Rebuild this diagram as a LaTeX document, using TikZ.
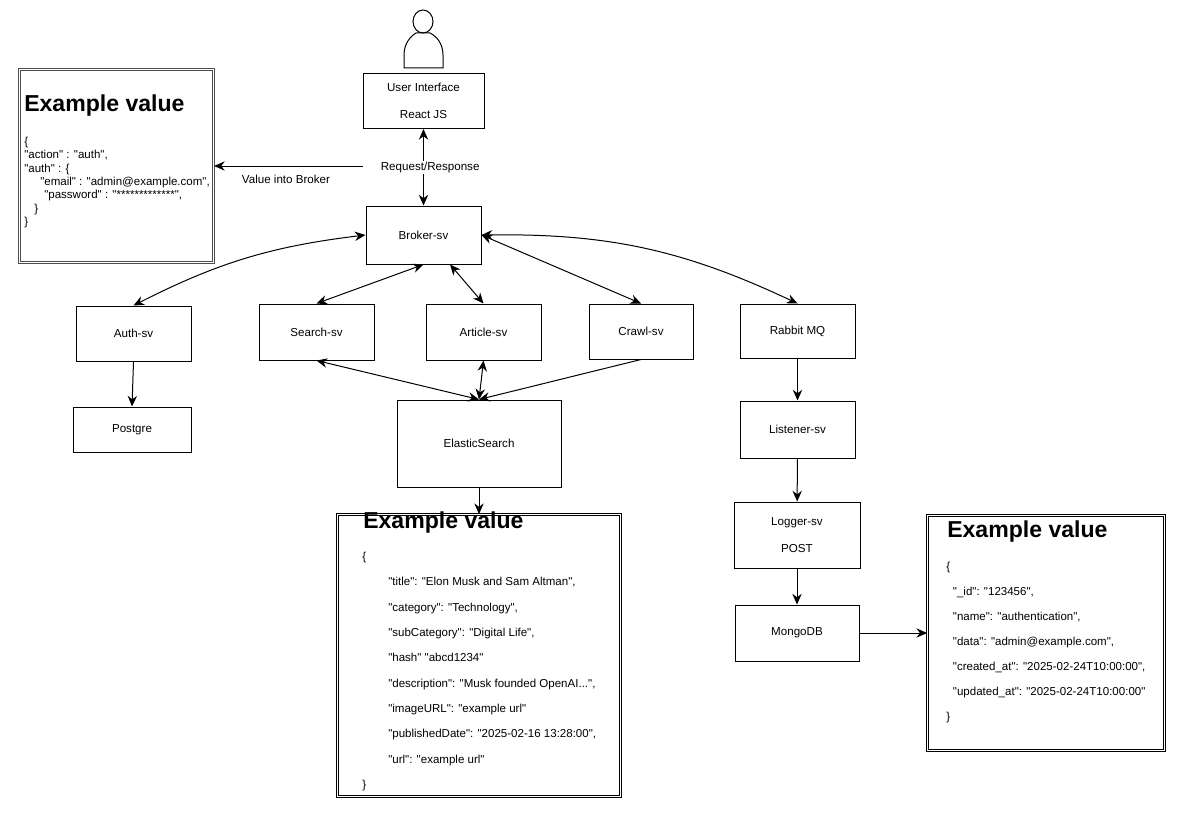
\documentclass[tikz,border=0pt]{standalone}
\usepackage{fontspec}
\setmainfont{Liberation Sans}[Ligatures=TeXOff]
\usetikzlibrary{arrows.meta}
\tikzset{
  size/.style 2 args={minimum width=#1*0.75pt, minimum height=#2*0.75pt},
  box/.style={draw, inner sep=0pt, align=center, line width=0.75pt, font=\fontsize{8.7}{20}\selectfont},
  example/.style={draw, double, double distance=1.1pt, line width=0.6pt},
  heading/.style={anchor=west, inner sep=0pt, font=\bfseries\fontsize{17.3}{20}\selectfont},
  code/.style={anchor=north west, inner sep=0pt, align=left, font=\fontsize{8.65}{#1}\selectfont},
  caption/.style={inner sep=1pt, font=\fontsize{8.7}{11}\selectfont},
  link/.style={line width=0.75pt, -{Stealth[length=8pt, width=7pt]}},
  both/.style={line width=0.75pt, {Stealth[length=8pt, width=7pt]}-{Stealth[length=8pt, width=7pt]}}
}
\begin{document}
\begin{tikzpicture}[x=0.75pt, y=-0.75pt]
      \useasboundingbox (0, 0) rectangle (1188, 824);
      % user
      \draw[line width=0.75pt] (423, 21.5) ellipse [x radius=10, y radius=11.5];
      \draw[line width=0.75pt] (404, 68)--(404, 55) .. controls (404, 43) and (411, 36) .. (416, 33)--(430, 33) .. controls (436, 36) and (443, 43) .. (443, 55)--(443, 68)--cycle;
      % services
      \node[box, size={121}{55}] (user) at (423.5, 101) {User Interface\\React JS};
      \node[box, size={115}{58}] (broker) at (423.5, 235) {Broker-sv};
      \node[box, size={115}{55}] (auth) at (133.5, 333.5) {Auth-sv};
      \node[box, size={118}{45}] (postgre) at (132, 429.5) {Postgre};
      \node[box, size={115}{56}] (search) at (316.5, 332) {Search-sv};
      \node[box, size={115}{56}] (article) at (483.5, 332) {Article-sv};
      \node[box, size={104}{55}] (crawl) at (641, 331.5) {Crawl-sv};
      \node[box, size={115}{54}] (rabbit) at (797.5, 331) {Rabbit MQ};
      \node[box, size={115}{57}] (listener) at (797.5, 429.5) {Listener-sv};
      \node[box, size={126}{66}] (logger) at (797, 535) {Logger-sv\\POST};
      \node[box, size={124}{56}] (mongo) at (797, 633) {MongoDB};
      \node[box, size={164}{87}] (elastic) at (479, 443.5) {ElasticSearch};
      % example values
      \node[example, size={194}{193}, double distance=0.7pt, line width=0.9pt, draw=black!70] (authvalue) at (116.5, 166) {};
      \node[heading] (authtitle) at (24, 106) {Example value};
      \node[code=10.1pt] (authcode) at (24, 136.5) {\{\\
        "action" : "auth",\\
        "auth" : \{\\
        \hspace*{12pt}"email" : "admin@example.com",\\
        \hspace*{15pt}"password" : "*************",\\
        \hspace*{7.5pt}\}\\
        \}};
      \node[example, size={283}{282}] (elasticvalue) at (479, 655.5) {};
      \node[heading] (elastictitle) at (363, 523) {Example value};
      \node[code=19pt] (elasticcode) at (362, 552) {\{\\
        \hspace*{19.5pt}"title": "Elon Musk and Sam Altman",\\
        \hspace*{19.5pt}"category": "Technology",\\
        \hspace*{19.5pt}"subCategory": "Digital Life",\\
        \hspace*{19.5pt}"hash" "abcd1234"\\
        \hspace*{19.5pt}"description": "Musk founded OpenAI...",\\
        \hspace*{19.5pt}"imageURL": "example url"\\
        \hspace*{19.5pt}"publishedDate": "2025-02-16 13:28:00",\\
        \hspace*{19.5pt}"url": "example url"\\
        \}};
      \node[example, size={237}{235}] (mongovalue) at (1046, 633) {};
      \node[heading] (mongotitle) at (947, 532) {Example value};
      \node[code=18.75pt] (mongocode) at (946, 562) {\{\\
        \hspace*{5pt}"\_id": "123456",\\
        \hspace*{5pt}"name": "authentication",\\
        \hspace*{5pt}"data": "admin@example.com",\\
        \hspace*{5pt}"created\_at": "2025-02-24T10:00:00",\\
        \hspace*{5pt}"updated\_at": "2025-02-24T10:00:00"\\
        \}};
      % connectors
      \coordinate (valuestart) at (363, 166);
      \draw[both] (user)--node[caption, fill=white, xshift=5pt] (reqlabel) {Request/Response} (broker);
      \draw[link] (valuestart)--(authvalue.east);
      \node[caption] (valuelabel) at (286, 179) {Value into Broker};
      \draw[both] (auth.north) to[bend left=10] (broker.west);
      \draw[both] (search.north)--(broker.south);
      \draw[both] (article.north)--(broker.-48);
      \draw[both] (crawl.north)--(broker.east);
      \draw[both] (broker.east) to[bend left=13] (rabbit.north);
      \draw[link] (auth.south)--(postgre.north);
      \draw[both] (search.south)--(elastic.north);
      \draw[both] (article.south)--(elastic.north);
      \draw[link] (crawl.south)--(elastic.north);
      \draw[link] (elastic.south)--(elasticvalue.north);
      \draw[link] (rabbit)--(listener);
      \draw[link] (listener)--(logger);
      \draw[link] (logger)--(mongo);
      \draw[link] (mongo)--(mongo-|mongovalue.west);
    \end{tikzpicture}
\end{document}
